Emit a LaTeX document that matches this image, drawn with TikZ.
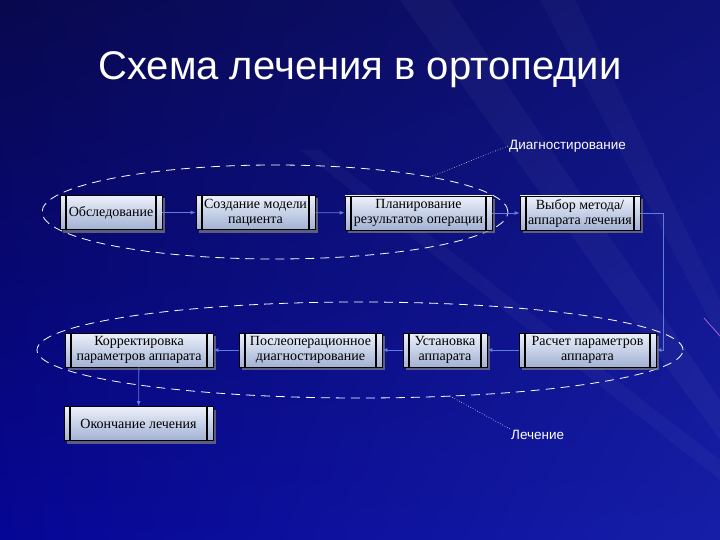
\documentclass[tikz,border=0pt]{standalone}
\usepackage{fontspec}
\setmainfont{Liberation Serif}
\newfontfamily\arialfont{Liberation Sans}
\usepackage{tikz}
\usetikzlibrary{arrows.meta,positioning,shapes.geometric,calc}
\usetikzlibrary{shadows,shadings}
\usepackage{xcolor}
\definecolor{bgdark}{RGB}{8,8,78}
\definecolor{bgtopright}{RGB}{14,18,118}
\definecolor{bglowleft}{RGB}{6,6,150}
\definecolor{bglowright}{RGB}{22,30,168}
\definecolor{boxtop}{RGB}{236,240,250}
\definecolor{boxbot}{RGB}{162,178,212}
\definecolor{linkblue}{RGB}{95,125,220}
\definecolor{rayviolet}{RGB}{200,120,230}

\begin{document}
\begin{tikzpicture}[x=1pt, y=-1pt,
    stage/.style={draw=black, line width=0.8pt, top color=boxtop, bottom color=boxbot,
        minimum height=34pt, inner sep=1pt, align=center,
        font=\fontsize{14}{15}\selectfont, text=black,
        drop shadow={shadow xshift=3pt, shadow yshift=-3pt, opacity=0.7},
        path picture={
            \draw[line width=1.3pt] ([xshift=6pt]path picture bounding box.north west) -- ([xshift=6pt]path picture bounding box.south west);
            \draw[line width=1.3pt] ([xshift=-6pt]path picture bounding box.north east) -- ([xshift=-6pt]path picture bounding box.south east);
        }},
    link/.style={draw=linkblue, line width=0.8pt, -{Latex[length=5pt,width=4pt]}},
    zone/.style={ellipse, draw=white, line width=0.8pt, dash pattern=on 9pt off 6pt, inner sep=0pt},
    tag/.style={text=white, font=\arialfont\fontsize{13.5}{15}\selectfont, inner sep=1pt},
    callout/.style={draw=white, line width=0.6pt, dotted}]
    \useasboundingbox (0,0) rectangle (720,540);

    % background
    \shade[upper left=bgdark, upper right=bgtopright, lower left=bglowleft, lower right=bglowright] (0,0) rectangle (720,540);
    \fill[white, opacity=0.035] (400,0) -- (450,0) -- (720,400) -- (720,440) -- cycle;
    \fill[white, opacity=0.03] (540,0) -- (575,0) -- (720,300) -- (720,340) -- cycle;
    \fill[white, opacity=0.03] (300,150) -- (320,150) -- (720,460) -- (720,480) -- cycle;
    \draw[rayviolet, line width=0.8pt, opacity=0.8] (704,318) -- (720,336);

    \node[text=white, font=\arialfont\fontsize{40}{44}\selectfont] (title) at (360,70) {Схема лечения в ортопедии};

    % groups
    \node[zone, minimum width=466pt, minimum height=94pt] (diagzone) at (275,212) {};
    \node[zone, minimum width=646pt, minimum height=96pt] (treatzone) at (360,350) {};

    \node[tag, anchor=west] (diaglabel) at (508,146) {Диагностирование};
    \node[tag, anchor=west] (treatlabel) at (510,435) {Лечение};
    \coordinate (diagpin) at (430,177);
    \coordinate (treatpin) at (450,396);
    \draw[callout] (diagpin) -- (diaglabel.west);
    \draw[callout] (treatpin) -- (treatlabel.north west);

    % stages
    \node[stage, minimum width=102pt] (obsl) at (111,212.5) {Обследование};
    \node[stage, minimum width=119pt] (model) at (255.5,212.5) {Создание модели\\пациента};
    \node[stage, minimum width=147pt] (plan) at (418.5,213) {Планирование\\результатов операции};
    \node[stage, minimum width=120pt] (vybor) at (580,213) {Выбор метода/\\аппарата лечения};
    \node[stage, minimum width=137pt] (raschet) at (587.5,350) {Расчет параметров\\аппарата};
    \node[stage, minimum width=84pt] (ustan) at (445,350) {Установка\\аппарата};
    \node[stage, minimum width=143pt] (posle) at (310.5,350) {Послеоперационное\\диагностирование};
    \node[stage, minimum width=148pt] (korr) at (139,350) {Корректировка\\параметров аппарата};
    \node[stage, minimum width=149pt] (okonch) at (138.5,423.5) {Окончание лечения};

    \coordinate (bend) at (663,213);
    \draw[link] (obsl) -- (model);
    \draw[link] (model) -- (plan);
    \draw[link] (plan) -- (vybor);
    \draw[link] (vybor.east) -- (bend) |- (raschet.east);
    \draw[link] (raschet) -- (ustan);
    \draw[link] (ustan) -- (posle);
    \draw[link] (posle) -- (korr);
    \draw[link] (korr) -- (okonch);
\end{tikzpicture}
\end{document}
